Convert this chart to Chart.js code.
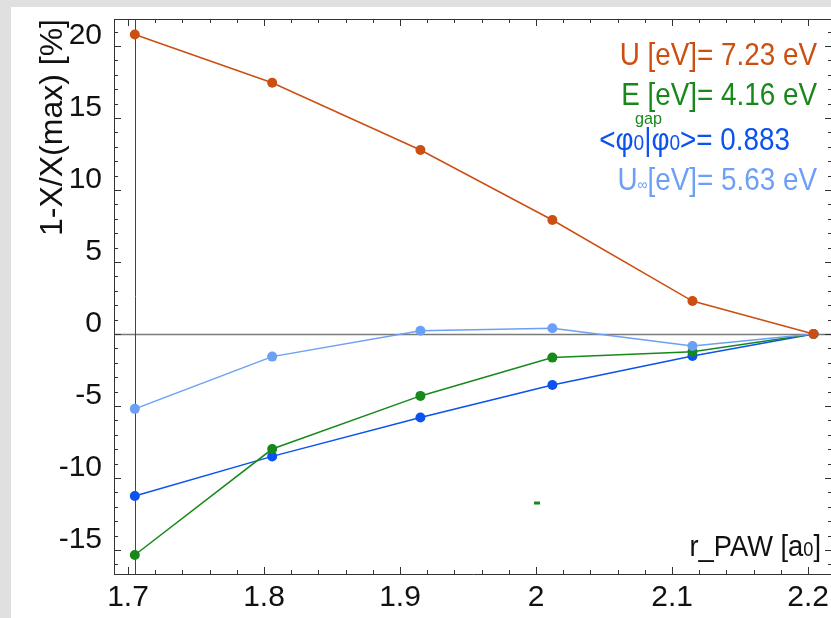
<!DOCTYPE html>
<html lang="en">
<head>
<meta charset="UTF-8">
<title>r_PAW convergence</title>
<script src="https://cdn.jsdelivr.net/npm/chart.js"></script>
<style>
  html, body { margin: 0; padding: 0; overflow: hidden; background: #e0e0e0; }
  #plot { display: block; }
</style>
</head>
<body>
<canvas id="plot" width="840" height="618"></canvas>
<script>
// values
var rPaw    = [1.705, 1.806, 1.915, 2.012, 2.115, 2.204];
var uHub    = [20.8, 17.45, 12.78, 7.92, 2.29, 0];
var eGap    = [-15.35, -7.99, -4.3, -1.64, -1.23, 0];
var overlap = [-11.25, -8.5, -5.8, -3.54, -1.53, 0];
var uInf    = [-5.2, -1.57, 0.23, 0.4, -0.83, 0];
var strayX  = [2.0007];
var strayY  = [-11.74];

var xTicks = [1.7, 1.8, 1.9, 2, 2.1, 2.2];
var yTicks = [-15, -10, -5, 0, 5, 10, 15, 20];

var FONT = "'Liberation Sans', Arial, sans-serif";

var ORANGE = '#cc4e10', GREEN = '#17891a', BLUE = '#0b52ee', LIGHT = '#6c9ff5';

function pts(xs, ys) {
    return xs.map(function (x, i) { return { x: x, y: ys[i] }; });
}

function series(data, color) {
    return {
        data: pts(rPaw, data),
        showLine: true,
        borderColor: color,
        borderWidth: 1.5,
        backgroundColor: color,
        pointRadius: 5,
        pointBorderWidth: 0,
        pointHoverRadius: 5
    };
}

// draws text made of parts [text, size, dy], right aligned, squeezed by sx
function drawRich(ctx, parts, right, base, sx, color) {
    ctx.save();
    ctx.fillStyle = color;
    ctx.textBaseline = 'alphabetic';
    ctx.textAlign = 'left';
    var w = 0;
    parts.forEach(function (p) {
        ctx.font = p[1] + 'px ' + FONT;
        w += ctx.measureText(p[0]).width;
    });
    ctx.translate(right - w * sx, base);
    ctx.scale(sx, 1);
    var x = 0;
    parts.forEach(function (p) {
        ctx.font = p[1] + 'px ' + FONT;
        ctx.fillText(p[0], x, p[2] || 0);
        x += ctx.measureText(p[0]).width;
    });
    ctx.restore();
}

function line(ctx, x1, y1, x2, y2) {
    ctx.beginPath();
    ctx.moveTo(x1, y1);
    ctx.lineTo(x2, y2);
    ctx.stroke();
}

var framePlugin = {
    id: 'frame',
    beforeDraw: function (chart) {
        var ctx = chart.ctx;
        ctx.save();
        ctx.fillStyle = '#e0e0e0';
        ctx.fillRect(0, 0, chart.width, chart.height);
        ctx.fillStyle = '#ffffff';
        ctx.fillRect(11, 7, chart.width - 11, chart.height - 7);
        ctx.restore();
    },
    beforeDatasetsDraw: function (chart) {
        var ctx = chart.ctx, a = chart.chartArea;
        var xs = chart.scales.x, ys = chart.scales.y;
        ctx.save();
        // zero line and vertical axis
        ctx.strokeStyle = '#7a7a7a';
        ctx.lineWidth = 1.5;
        var y0 = Math.round(ys.getPixelForValue(0)) + 0.5;
        line(ctx, a.left, y0, a.right, y0);
        ctx.strokeStyle = '#444';
        ctx.lineWidth = 1;
        var xv = Math.round(xs.getPixelForValue(rPaw[0])) + 0.5;
        line(ctx, xv, a.top, xv, a.bottom);

        // frame top and tick marks pointing inward
        ctx.strokeStyle = '#333';
        line(ctx, a.left, a.top + 0.5, a.right, a.top + 0.5);
        for (var i = -16; i <= 21; i++) {
            var py = Math.round(ys.getPixelForValue(i)) + 0.5;
            var len = i % 5 === 0 ? 7 : 4;
            line(ctx, a.left, py, a.left + len, py);
            line(ctx, a.right, py, a.right - len, py);
        }
        for (var k = 85; k <= 110; k++) {
            var px = Math.round(xs.getPixelForValue(k / 50)) + 0.5;
            var l2 = k % 5 === 0 ? 7 : 4;
            line(ctx, px, a.bottom, px, a.bottom - l2);
            line(ctx, px, a.top, px, a.top + l2);
        }
        ctx.restore();
    },
    afterDraw: function (chart) {
        var ctx = chart.ctx;
        drawRich(ctx, [['U [eV]= 7.23 eV', 32]], 817, 65, 0.87, ORANGE);
        drawRich(ctx, [['E [eV]= 4.16 eV', 32]], 817, 105, 0.87, GREEN);
        drawRich(ctx, [['gap', 17]], 662, 124, 0.95, GREEN);
        drawRich(ctx, [['<\u03c6', 32], ['0', 22], ['|\u03c6', 32], ['0', 22], ['>= 0.883', 32]], 790, 150, 0.87, BLUE);
        drawRich(ctx, [['U', 32], ['\u221e', 16], ['[eV]= 5.63 eV', 32]], 817, 190, 0.87, LIGHT);
        drawRich(ctx, [['r_PAW [a', 30], ['0', 20], [']', 30]], 821, 556, 0.91, '#111');
    }
};

var stray = {
    data: pts(strayX, strayY),
    showLine: false,
    pointStyle: 'line',
    pointRadius: 3,
    borderWidth: 3,
    borderColor: GREEN,
    backgroundColor: GREEN
};

new Chart(document.getElementById('plot'), {
    type: 'scatter',
    data: {
        datasets: [
            series(uHub, ORANGE),
            series(uInf, LIGHT),
            series(eGap, GREEN),
            series(overlap, BLUE),
            stray
        ]
    },
    options: {
        responsive: false,
        animation: false,
        events: [],
        layout: { padding: { left: 0, top: 19, right: 8, bottom: 0 } },
        plugins: { legend: { display: false }, tooltip: { enabled: false } },
        scales: {
            x: {
                type: 'linear',
                min: 1.6897,
                max: 2.2176,
                afterBuildTicks: function (s) { s.ticks = xTicks.map(function (v) { return { value: v }; }); },
                afterFit: function (s) { s.height = 44; s.paddingLeft = 0; s.paddingRight = 0; },
                grid: { display: false, drawTicks: false },
                border: { display: true, color: '#333', width: 1 },
                ticks: {
                    autoSkip: false, maxRotation: 0, padding: 6, color: '#111',
                    font: { family: FONT, size: 30 },
                    callback: function (v) { return String(v); }
                }
            },
            y: {
                type: 'linear',
                min: -16.67,
                max: 21.88,
                afterBuildTicks: function (s) { s.ticks = yTicks.map(function (v) { return { value: v }; }); },
                afterFit: function (s) { s.width = 114; s.paddingTop = 0; s.paddingBottom = 0; },
                grid: { display: false, drawTicks: false },
                border: { display: true, color: '#333', width: 1 },
                ticks: {
                    autoSkip: false, padding: 12, labelOffset: -10, color: '#111',
                    font: { family: FONT, size: 30 },
                    callback: function (v) { return String(v); }
                },
                title: {
                    display: true,
                    text: '1-X/X(max) [%]',
                    align: 'end',
                    color: '#111',
                    font: { family: FONT, size: 32 },
                    padding: { top: 34, bottom: 0 }
                }
            }
        }
    },
    plugins: [framePlugin]
});
</script>
</body>
</html>
